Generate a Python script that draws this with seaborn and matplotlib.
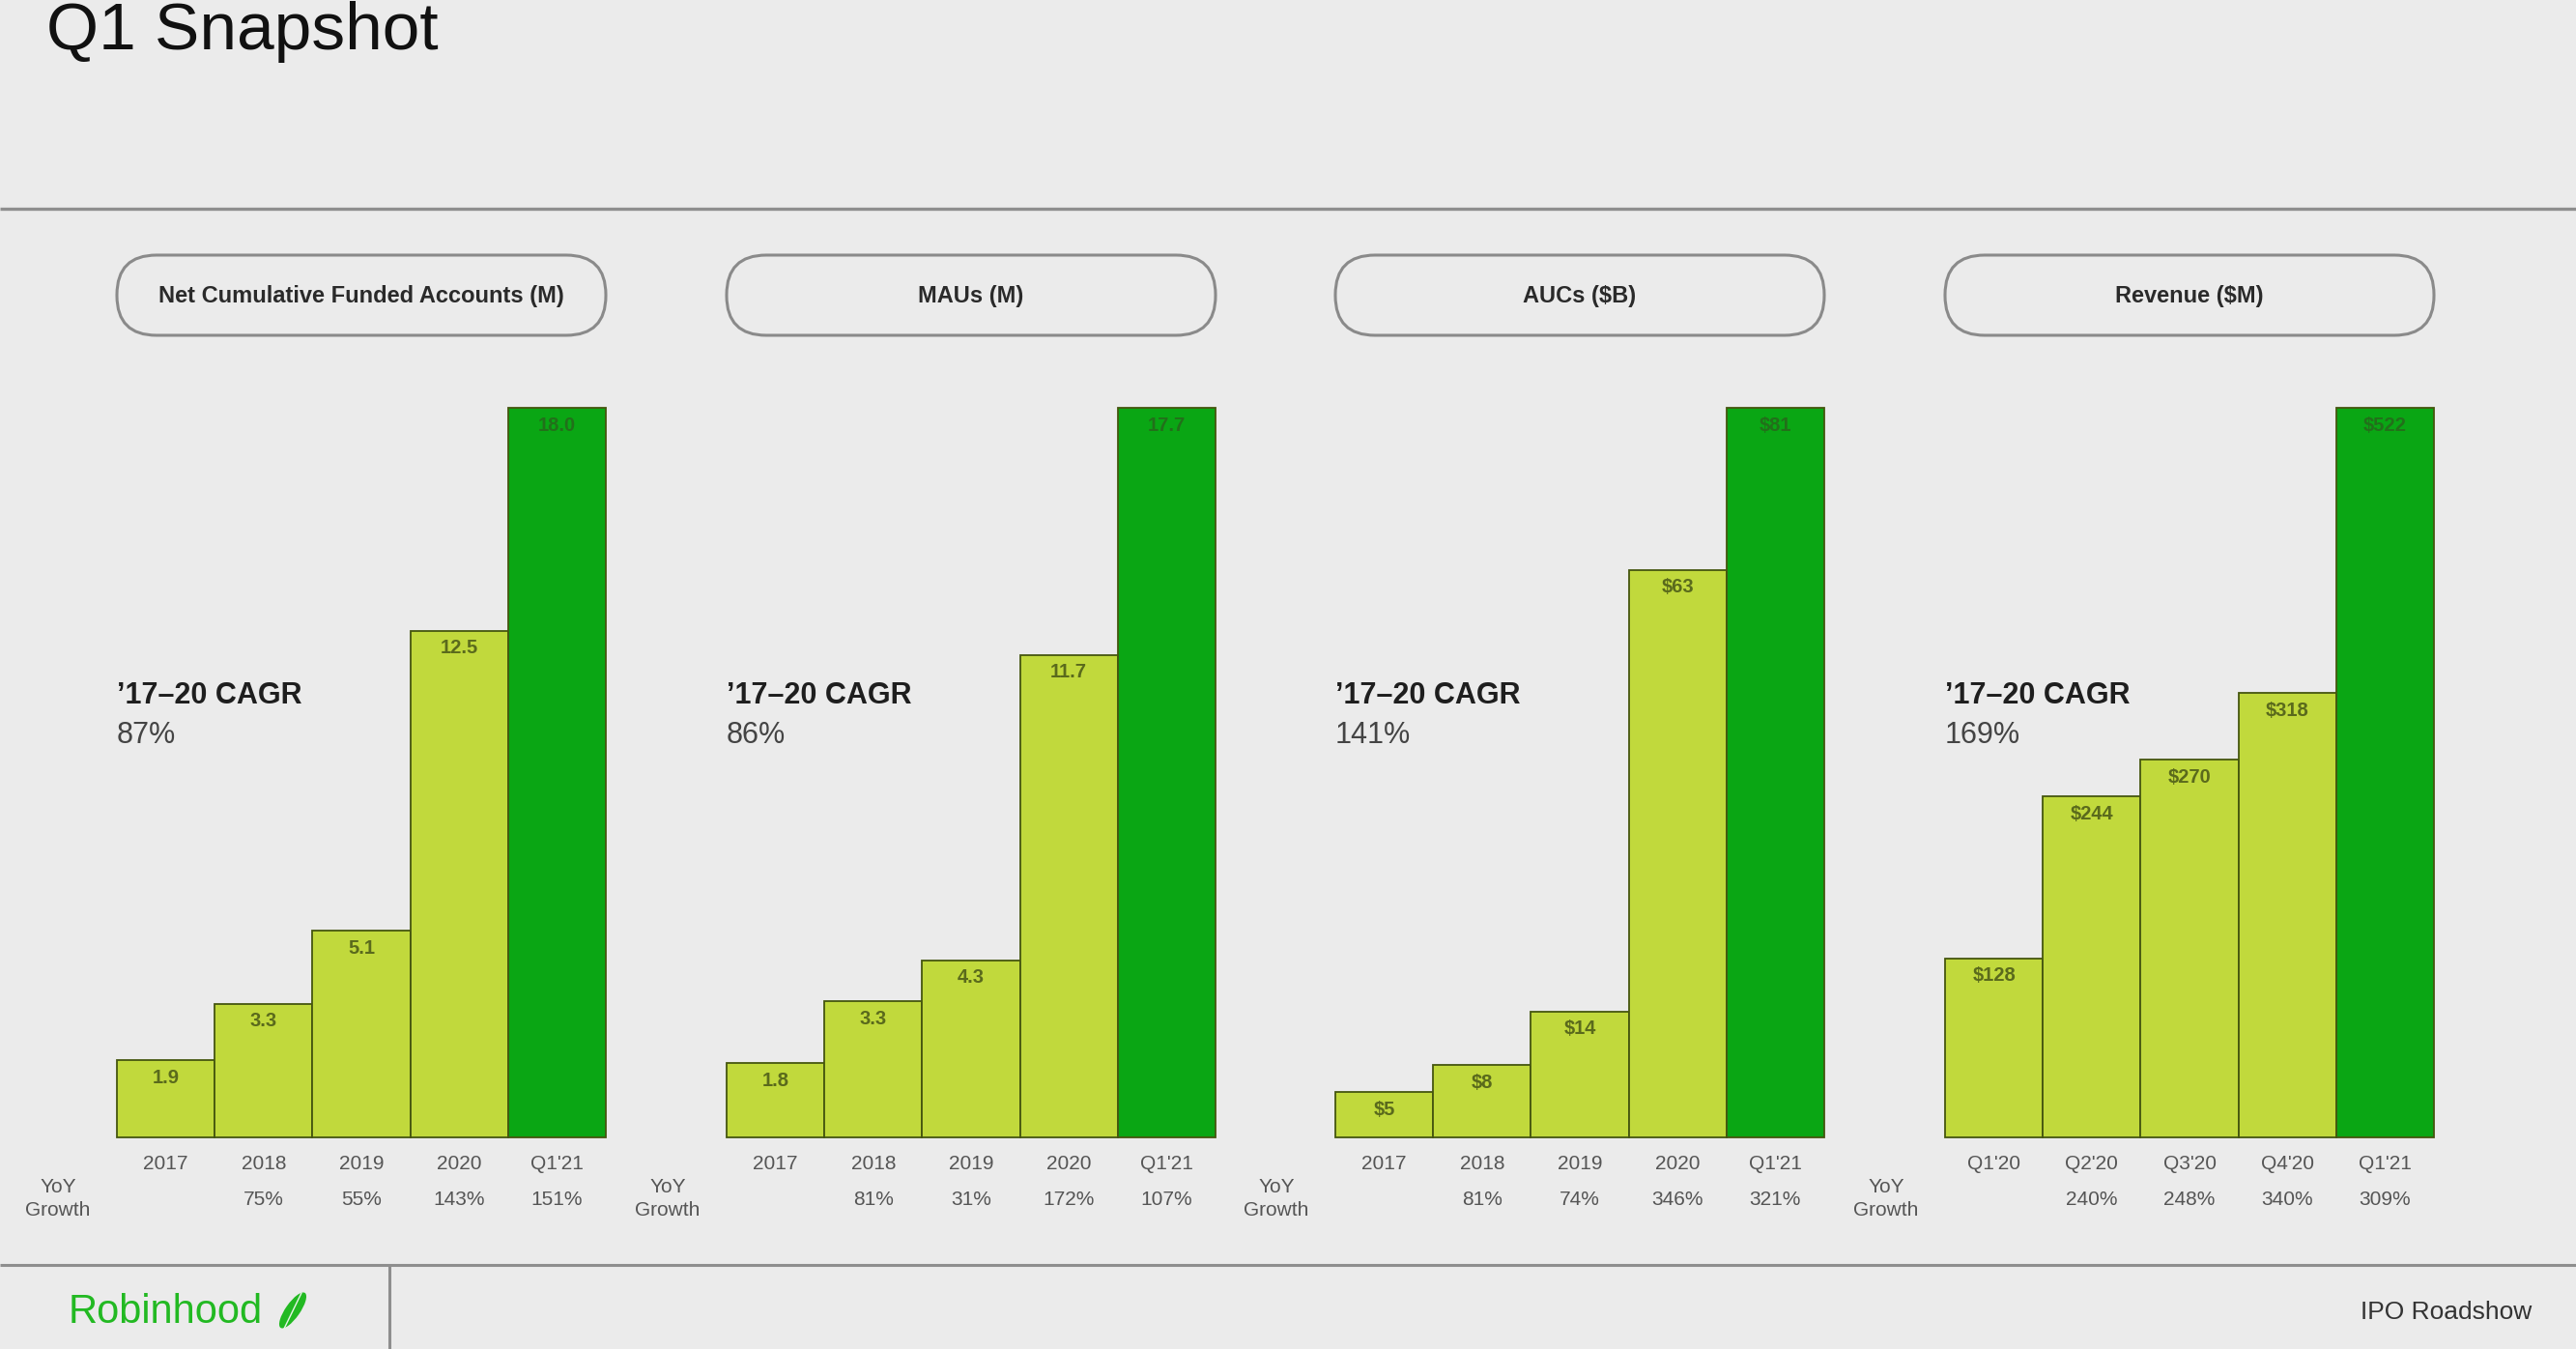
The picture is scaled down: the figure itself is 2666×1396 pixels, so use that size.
import matplotlib
matplotlib.use("Agg")
import matplotlib.pyplot as plt
from matplotlib.patches import FancyBboxPatch, Ellipse
import seaborn as sns
import pandas as pd

sns.set_theme(style="white")
plt.rcParams['font.family'] = ['Liberation Sans', 'DejaVu Sans']
plt.rcParams['text.parse_math'] = False

# ---------------- data ----------------
titles = ["Net Cumulative Funded Accounts (M)", "MAUs (M)", "AUCs ($B)", "Revenue ($M)"]

cats_accounts = ["2017", "2018", "2019", "2020", "Q1'21"]
vals_accounts = [1.9, 3.3, 5.1, 12.5, 18.0]
lbls_accounts = ["1.9", "3.3", "5.1", "12.5", "18.0"]
growth_accounts = ["", "75%", "55%", "143%", "151%"]

cats_maus = ["2017", "2018", "2019", "2020", "Q1'21"]
vals_maus = [1.8, 3.3, 4.3, 11.7, 17.7]
lbls_maus = ["1.8", "3.3", "4.3", "11.7", "17.7"]
growth_maus = ["", "81%", "31%", "172%", "107%"]

cats_aucs = ["2017", "2018", "2019", "2020", "Q1'21"]
vals_aucs = [5, 8, 14, 63, 81]
lbls_aucs = ["$5", "$8", "$14", "$63", "$81"]
growth_aucs = ["", "81%", "74%", "346%", "321%"]

cats_rev = ["Q1'20", "Q2'20", "Q3'20", "Q4'20", "Q1'21"]
vals_rev = [128, 244, 270, 318, 522]
lbls_rev = ["$128", "$244", "$270", "$318", "$522"]
growth_rev = ["", "240%", "248%", "340%", "309%"]

cagr = ["87%", "86%", "141%", "169%"]

panels = [
    (cats_accounts, vals_accounts, lbls_accounts, growth_accounts),
    (cats_maus, vals_maus, lbls_maus, growth_maus),
    (cats_aucs, vals_aucs, lbls_aucs, growth_aucs),
    (cats_rev, vals_rev, lbls_rev, growth_rev),
]

# ---------------- style ----------------
W, H = 2666, 1396
BG = "#ebebeb"
LIGHT = "#c1d93c"
DARK = "#0aa614"
EDGE = "#45560f"
palette = [LIGHT, LIGHT, LIGHT, LIGHT, DARK]

fig = plt.figure(figsize=(W / 100, H / 100), dpi=100)
fig.patch.set_facecolor(BG)

# background canvas in pixel coordinates
bg = fig.add_axes([0, 0, 1, 1], zorder=-1)
bg.set_xlim(0, W)
bg.set_ylim(H, 0)
bg.axis("off")
bg.set_facecolor(BG)

bg.text(48, 51, "Q1 Snapshot", fontsize=50, color="#111111", va="baseline", ha="left")
bg.plot([0, W], [216, 216], color="#8e8e8e", lw=2.4, solid_capstyle="butt")
bg.plot([0, W], [1309, 1309], color="#8e8e8e", lw=2.2, solid_capstyle="butt")
bg.plot([403, 403], [1309, H], color="#8e8e8e", lw=2.2, solid_capstyle="butt")

bg.text(71, 1358, "Robinhood", fontsize=30, color="#22b922", va="center", ha="left")
bg.add_patch(Ellipse((303, 1356), width=15, height=44, angle=35, facecolor="#22b922", edgecolor="none"))
bg.plot([294, 312], [1375, 1338], color="#e8f5e8", lw=1.0)
bg.text(2620, 1358, "IPO Roadshow", fontsize=19, color="#333333", va="center", ha="right")

lefts = [121, 752, 1382, 2013]
pw = 506
base_y = 1177
top_y = 422

for i, (cats, vals, lbls, growth) in enumerate(panels):
    left = lefts[i]
    # pill header
    bg.add_patch(FancyBboxPatch((left, 264), pw, 83,
                                boxstyle="round,pad=0,rounding_size=41",
                                facecolor="none", edgecolor="#8a8a8a", lw=2.2))
    bg.text(left + pw / 2, 306, titles[i], fontsize=17, fontweight="bold",
            color="#2a2a2a", ha="center", va="center")
    # CAGR
    bg.text(left, 720, "\u201917\u201320 CAGR", fontsize=22, fontweight="bold",
            color="#1e1e1e", ha="left", va="center")
    bg.text(left, 761, cagr[i], fontsize=22, color="#444444", ha="left", va="center")

    ax = fig.add_axes([left / W, (H - base_y) / H, pw / W, (base_y - top_y) / H])
    ax.set_facecolor("none")
    df = pd.DataFrame({"cat": cats, "val": vals})
    sns.barplot(data=df, x="cat", y="val", hue="cat", order=cats, hue_order=cats,
                palette=palette, width=1.0, edgecolor=EDGE, linewidth=1.3,
                legend=False, ax=ax, saturation=1)
    ax.set_ylim(0, max(vals))
    ax.set_xlim(-0.5, len(cats) - 0.5)
    for p in ax.patches:
        p.set_clip_on(False)
    for sp in ax.spines.values():
        sp.set_visible(False)
    ax.set_yticks([])
    ax.set_xlabel("")
    ax.set_ylabel("")
    ax.tick_params(axis="x", length=0, pad=13, labelsize=15, labelcolor="#555555")
    for j, (v, lab) in enumerate(zip(vals, lbls)):
        ax.annotate(lab, (j, v), xytext=(0, -13), textcoords="offset points",
                    ha="center", va="center", fontsize=14.5, fontweight="bold",
                    color="#22701a" if j == len(vals) - 1 else "#5a6a1c")
        if growth[j]:
            ax.text(j, -0.086, growth[j], transform=ax.get_xaxis_transform(),
                    ha="center", va="center", fontsize=15, color="#555555")
    ax.text(-61 / pw, -0.084, "YoY\nGrowth", transform=ax.transAxes, ha="center",
            va="center", fontsize=15, color="#555555", linespacing=1.3)

fig.savefig("out.png", dpi=100, facecolor=BG)
